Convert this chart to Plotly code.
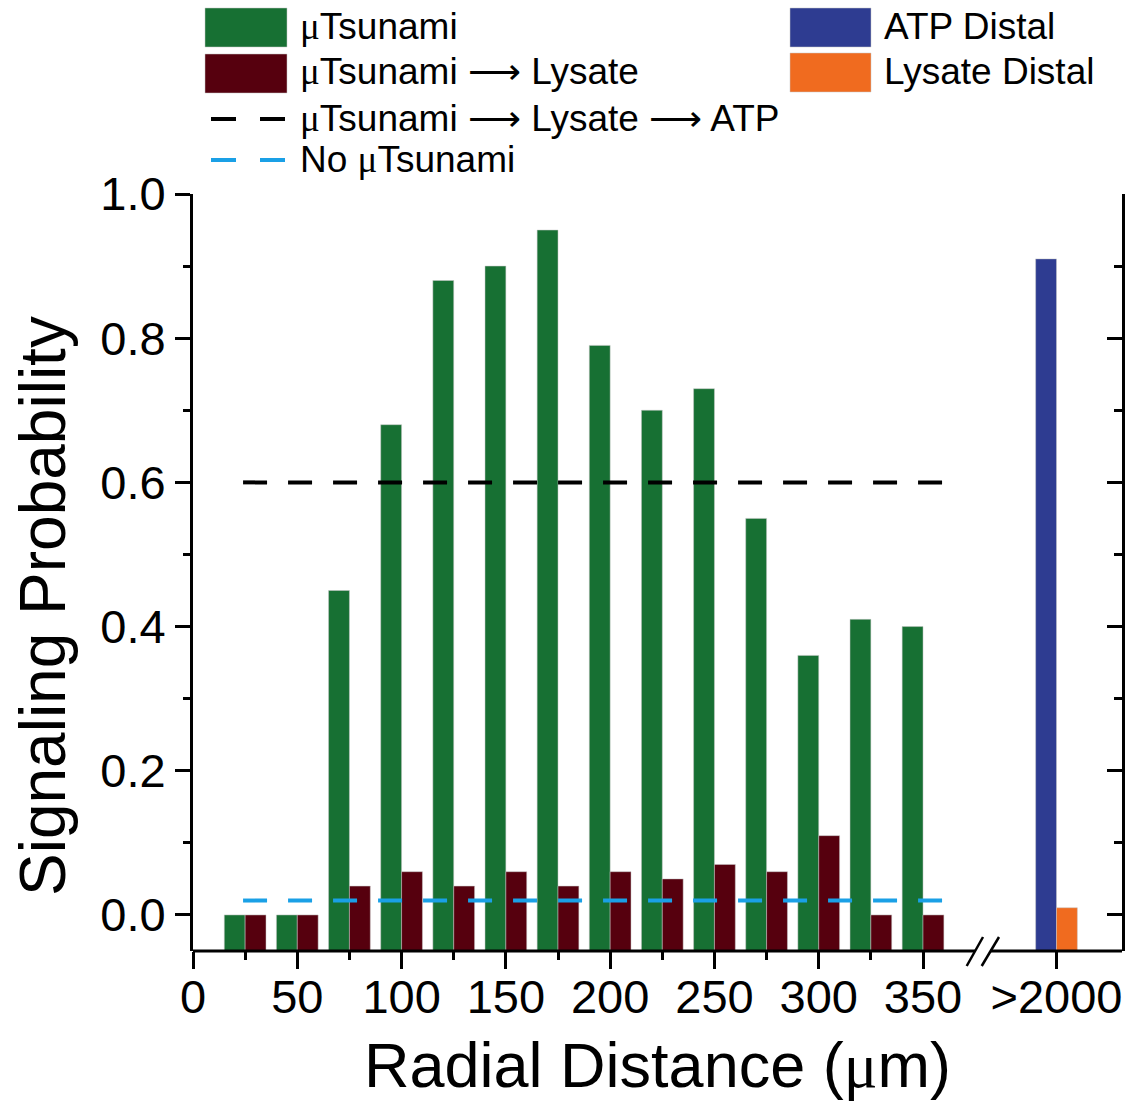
import plotly.graph_objects as go

# Signaling probability vs. radial distance from the wound site
distance_um = [25, 50, 75, 100, 125, 150, 175, 200, 225, 250, 275, 300, 325, 350]
tsunami_prob = [0.0, 0.0, 0.45, 0.68, 0.88, 0.90, 0.95, 0.79, 0.70, 0.73, 0.55, 0.36, 0.41, 0.40]
tsunami_lysate_prob = [0.0, 0.0, 0.04, 0.06, 0.04, 0.06, 0.04, 0.06, 0.05, 0.07, 0.06, 0.11, 0.0, 0.0]

# distal (>2000 um) group, drawn after an axis break
distal_label = ">2000"
distal_pos = 414
atp_distal_prob = [0.91]
lysate_distal_prob = [0.01]

# reference levels drawn as dashed lines across the proximal range
atp_level = 0.60
no_tsunami_level = 0.02
level_span = [24, 362]

x_tick_vals = [0, 50, 100, 150, 200, 250, 300, 350]
y_tick_vals = [0.0, 0.2, 0.4, 0.6, 0.8, 1.0]

GREEN = "#177033"
MAROON = "#56000e"
NAVY = "#2e3c91"
ORANGE = "#f06b1f"
SKY = "#1aa0e6"
FONT = "Liberation Sans, Arial, sans-serif"
MU = "<span style=\"font-family:'Liberation Serif'\">μ</span>"
ARROW = " ⟶ "

W, H = 1129, 1103
L, R, T, B = 193, 1122, 194, 951
X_MAX = 445.4
Y_MIN, Y_MAX = -0.05, 1.0
BAR_W = 10
HALF = BAR_W / 2


def px_x(p):
    return (p - L) / (R - L)


def px_y(p):
    return (B - p) / (B - T)


def bar(xs, vals, color, name, yaxis="y"):
    return go.Bar(
        x=xs, y=[v - Y_MIN for v in vals], base=Y_MIN, width=BAR_W,
        marker=dict(color=color, line=dict(color="rgba(200,200,200,0.5)", width=1)),
        name=name, showlegend=False, yaxis=yaxis,
    )


fig = go.Figure()
fig.add_trace(bar([d - HALF for d in distance_um], tsunami_prob, GREEN, "μTsunami"))
fig.add_trace(bar([d + HALF for d in distance_um], tsunami_lysate_prob, MAROON, "μTsunami → Lysate"))
fig.add_trace(bar([distal_pos - HALF], atp_distal_prob, NAVY, "ATP Distal"))
fig.add_trace(bar([distal_pos + HALF], lysate_distal_prob, ORANGE, "Lysate Distal"))

fig.add_trace(go.Scatter(x=level_span, y=[atp_level] * 2, mode="lines",
                         line=dict(color="black", width=4, dash="24px,21px"),
                         showlegend=False))
fig.add_trace(go.Scatter(x=level_span, y=[no_tsunami_level] * 2, mode="lines",
                         line=dict(color=SKY, width=4, dash="24px,21px"),
                         showlegend=False))
# carrier for the right-hand (tick-only) axis
fig.add_trace(go.Scatter(x=[None], y=[None], yaxis="y2", showlegend=False, hoverinfo="skip"))

shapes = []
# bottom axis line with a break before the distal group
brk_a = (975 - L) / (R - L) * X_MAX
brk_b = (990 - L) / (R - L) * X_MAX
for x0, x1 in [(0, brk_a), (brk_b, X_MAX)]:
    shapes.append(dict(type="line", xref="x", yref="paper", x0=x0, x1=x1, y0=0, y1=0,
                       line=dict(color="black", width=3)))
for sx in [(966.7, 983.0), (981.7, 999.0)]:
    shapes.append(dict(type="line", xref="paper", yref="paper",
                       x0=px_x(sx[0]), x1=px_x(sx[1]), y0=px_y(966), y1=px_y(937),
                       line=dict(color="black", width=2.5)))

# legend swatches
for (x0, x1, y0, y1, c) in [(205, 287, 8, 47, GREEN), (205, 287, 54, 93, MAROON),
                            (790, 871, 8, 47, NAVY), (790, 871, 53, 92, ORANGE)]:
    shapes.append(dict(type="rect", xref="paper", yref="paper",
                       x0=px_x(x0), x1=px_x(x1), y0=px_y(y1), y1=px_y(y0),
                       fillcolor=c, line=dict(color="rgba(200,200,200,0.5)", width=1)))
for (yy, c) in [(119, "black"), (160, SKY)]:
    shapes.append(dict(type="line", xref="paper", yref="paper",
                       x0=px_x(211), x1=px_x(287), y0=px_y(yy), y1=px_y(yy),
                       line=dict(color=c, width=4, dash="25px,24px")))

annotations = []
legend_rows = [
    (298, 27, MU + "Tsunami"),
    (298, 72, MU + "Tsunami" + ARROW + "Lysate"),
    (298, 118, MU + "Tsunami" + ARROW + "Lysate" + ARROW + "ATP"),
    (298, 159, "No " + MU + "Tsunami"),
    (882, 27, "ATP Distal"),
    (882, 72, "Lysate Distal"),
]
for (xx, yy, txt) in legend_rows:
    annotations.append(dict(xref="paper", yref="paper", x=px_x(xx), y=px_y(yy),
                            text=txt, showarrow=False, xanchor="left", yanchor="middle",
                            font=dict(family=FONT, size=37, color="black")))

# y-axis title
annotations.append(dict(xref="paper", yref="paper", x=px_x(43), y=px_y(606),
                        text="Signaling Probability", textangle=-90, showarrow=False,
                        xanchor="center", yanchor="middle",
                        font=dict(family=FONT, size=64, color="black")))

fig.update_layout(
    width=W, height=H,
    margin=dict(l=L, r=W - R, t=T, b=H - B, pad=0),
    paper_bgcolor="white", plot_bgcolor="white",
    font=dict(family=FONT, color="black"),
    barmode="overlay",
    shapes=shapes, annotations=annotations,
    xaxis=dict(
        range=[0, X_MAX], showline=False, showgrid=False, zeroline=False,
        tickmode="array", tickvals=x_tick_vals + [distal_pos],
        ticktext=[str(v) for v in x_tick_vals] + [distal_label],
        ticks="outside", ticklen=17, tickwidth=3, tickcolor="black",
        tickfont=dict(size=47, family=FONT), ticklabelstandoff=-12,
        minor=dict(tickmode="array", tickvals=[d for d in distance_um if d % 50],
                   ticks="outside", ticklen=8, tickwidth=3, tickcolor="black"),
        title=dict(text="Radial Distance (" + MU + "m)", font=dict(size=63, family=FONT),
                   standoff=20),
    ),
    yaxis=dict(
        range=[Y_MIN, Y_MAX], showline=True, linewidth=3, linecolor="black",
        showgrid=False, zeroline=False,
        tickmode="array", tickvals=y_tick_vals, ticktext=[f"{v:.1f}" for v in y_tick_vals],
        ticks="outside", ticklen=15, tickwidth=3, tickcolor="black",
        tickfont=dict(size=47, family=FONT),
        minor=dict(tickmode="array", tickvals=[0.1, 0.3, 0.5, 0.7, 0.9],
                   ticks="outside", ticklen=7, tickwidth=3, tickcolor="black"),
    ),
    yaxis2=dict(
        range=[Y_MIN, Y_MAX], overlaying="y", side="right", anchor="x",
        showline=True, linewidth=3, linecolor="black", showgrid=False, zeroline=False,
        tickmode="array", tickvals=y_tick_vals, showticklabels=False,
        ticks="inside", ticklen=15, tickwidth=3, tickcolor="black",
        minor=dict(tickmode="array", tickvals=[0.1, 0.3, 0.5, 0.7, 0.9],
                   ticks="inside", ticklen=8, tickwidth=3, tickcolor="black"),
    ),
)

fig.write_html("out.html")
